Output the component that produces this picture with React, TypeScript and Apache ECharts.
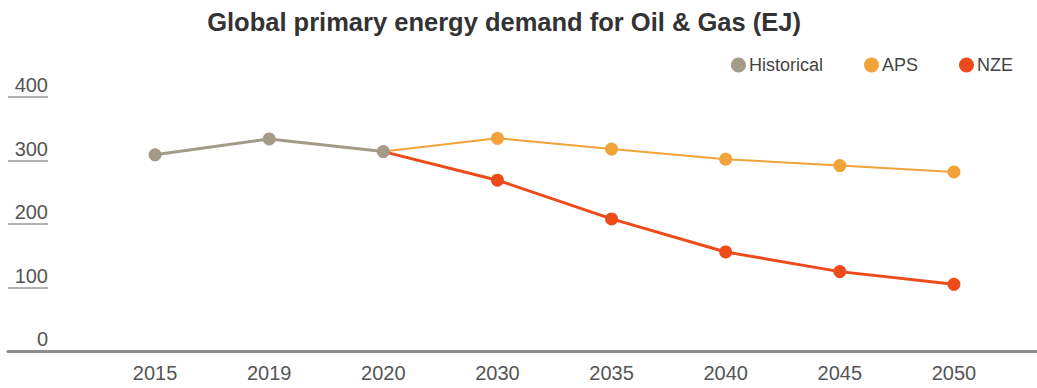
import React, { useEffect, useRef } from "react";
import * as echarts from "echarts";

// Years shown along the horizontal axis
const years = ["2015", "2019", "2020", "2030", "2035", "2040", "2045", "2050"];

// Demand in EJ per scenario (null where a scenario has no value)
const historical = [309, 334, 314, null, null, null, null, null];
const aps = [null, null, 314, 335, 318, 302, 292, 282];
const nze = [null, null, 314, 269, 208, 156, 125, 105];

// Value axis range
const yMin = 0;
const yMax = 400;
const yStep = 100;

const COLORS = {
  historical: "#a39a88",
  aps: "#f2a23a",
  nze: "#ee4b1b",
};

const GRID_TOP = 97;
const GRID_BOTTOM = 37;

// The 2020 point is shared; only the Historical dot is drawn there.
const joinPoint = (arr: (number | null)[]) =>
  arr.map((v, i) => (i === 2 && v != null ? { value: v, symbol: "none" } : v));

export default function App() {
  const ref = useRef<HTMLDivElement>(null);

  useEffect(() => {
    if (!ref.current) return;
    const chart = echarts.init(ref.current, undefined, { renderer: "svg" });
    const font = "'Liberation Sans', Arial, Helvetica, sans-serif";

    chart.setOption({
      animation: false,
      textStyle: { fontFamily: font },
      title: {
        text: "Global primary energy demand for Oil & Gas (EJ)",
        left: 499,
        top: 4,
        textAlign: "center",
        textStyle: { fontSize: 25.5, fontWeight: "bold", color: "#333", fontFamily: font },
      },
      legend: {
        data: ["Historical", "APS", "NZE"],
        right: 19,
        top: 51,
        icon: "circle",
        itemWidth: 15,
        itemHeight: 15,
        itemGap: 41,
        textStyle: { fontSize: 18, color: "#444", fontFamily: font, padding: [0, 0, 0, -2] },
      },
      grid: [
        // main plotting area
        { left: 98, right: 26, top: GRID_TOP, bottom: GRID_BOTTOM },
        // narrow strip holding the underlined value labels
        { left: 8, width: 40, top: GRID_TOP, bottom: GRID_BOTTOM },
        // full-width strip for the baseline
        { left: 8, right: 0, top: GRID_TOP, bottom: GRID_BOTTOM },
      ],
      xAxis: [
        {
          type: "category",
          gridIndex: 0,
          data: years,
          boundaryGap: true,
          axisLine: { show: false },
          axisTick: { show: false },
          axisLabel: { fontSize: 20, color: "#555", margin: 12, fontFamily: font },
        },
        { type: "value", gridIndex: 1, show: false },
        {
          type: "value",
          gridIndex: 2,
          axisLine: { show: true, lineStyle: { color: "#8c8c8c", width: 3 } },
          axisTick: { show: false },
          axisLabel: { show: false },
          splitLine: { show: false },
        },
      ],
      yAxis: [
        { type: "value", gridIndex: 0, min: yMin, max: yMax, interval: yStep, show: false },
        {
          type: "value",
          gridIndex: 1,
          min: yMin,
          max: yMax,
          interval: yStep,
          position: "right",
          axisLine: { show: false },
          axisTick: { show: false },
          splitLine: { show: true, lineStyle: { color: "#9a9a9a", width: 1.5 } },
          axisLabel: {
            inside: true,
            margin: 0,
            fontSize: 20,
            color: "#555",
            verticalAlign: "bottom",
            padding: [0, 0, 2, 0],
            fontFamily: font,
          },
        },
        { type: "value", gridIndex: 2, min: yMin, max: yMax, show: false },
      ],
      series: [
        {
          name: "APS",
          type: "line",
          data: joinPoint(aps),
          symbol: "circle",
          symbolSize: 13,
          color: COLORS.aps,
          lineStyle: { width: 2, color: COLORS.aps },
          itemStyle: { color: COLORS.aps },
          z: 2,
        },
        {
          name: "NZE",
          type: "line",
          data: joinPoint(nze),
          symbol: "circle",
          symbolSize: 13,
          color: COLORS.nze,
          lineStyle: { width: 3, color: COLORS.nze },
          itemStyle: { color: COLORS.nze },
          z: 3,
        },
        {
          name: "Historical",
          type: "line",
          data: historical,
          symbol: "circle",
          symbolSize: 13,
          color: COLORS.historical,
          lineStyle: { width: 3, color: COLORS.historical },
          itemStyle: { color: COLORS.historical },
          z: 4,
        },
      ],
    });

    return () => chart.dispose();
  }, []);

  return <div ref={ref} style={{ width: 1037, height: 388, position: "absolute", left: 0, top: 0 }} />;
}
